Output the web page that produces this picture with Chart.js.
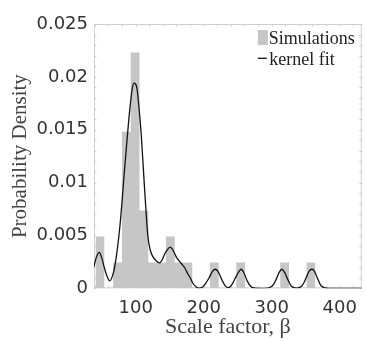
<!DOCTYPE html>
<html>
<head>
<meta charset="utf-8">
<script src="https://cdn.jsdelivr.net/npm/chart.js@4.4.0/dist/chart.umd.min.js"></script>
<style>
  html, body { margin: 0; padding: 0; background: #fff; }
  canvas { display: block; }
</style>
</head>
<body>
<canvas id="kdeChart" width="366" height="341"></canvas>
<script>
// histogram of simulations (bin edges + density per bin)
const binEdges = [40.9, 53.84, 66.78, 79.72, 92.66, 105.6, 118.54, 131.48, 144.42, 157.36, 170.3, 183.24, 196.18,
  209.12, 222.06, 235.0, 247.94, 260.88, 273.82, 286.76, 299.7, 312.64, 325.58, 338.52, 351.46, 364.4];
const binDensity = [0.0049, 0, 0.00245, 0.0148, 0.0223, 0.00735, 0.00245, 0.00245, 0.0049, 0.00245, 0.00245, 0, 0,
  0.00245, 0, 0, 0.00245, 0, 0, 0, 0, 0.00245, 0, 0, 0.00245];

// kernel fit
const kernelX = [38.7, 42, 46.5, 50, 53.3, 57.5, 62, 66, 69.4, 76.7, 84, 91.3, 95, 97.5, 100, 101.9, 105, 108.3, 113.2,
  118, 121.5, 125.3, 130, 135, 139, 142.3, 146, 150.7, 155, 159.4, 164, 169, 172.5, 176.4, 181, 184, 188.6, 193.4,
  198, 203.2, 208, 213, 217, 221, 227.5, 232, 236.5, 241, 246, 251, 255, 259, 264, 269, 276, 290, 298, 303, 307, 311,
  315, 319, 324, 329, 337, 344, 348, 352, 356, 359.5, 363, 367, 372, 378, 385, 432.6];
const kernelY = [0.00205, 0.0029, 0.0034, 0.0029, 0.0021, 0.0012, 0.0007, 0.0012, 0.0021, 0.0058, 0.0115, 0.0169,
  0.0189, 0.0194, 0.0193, 0.0189, 0.017, 0.0144, 0.0093, 0.0049, 0.0036, 0.003, 0.0026, 0.0024, 0.0027, 0.0032,
  0.0036, 0.0039, 0.0036, 0.003, 0.0026, 0.0022, 0.0019, 0.0014, 0.0009, 0.0005, 0.00015, 0.00002, 0.0001, 0.0005,
  0.001, 0.0016, 0.0018, 0.0016, 0.0007, 0.0002, 0.00005, 0.0003, 0.0009, 0.0015, 0.0018, 0.0015, 0.0007, 0.0002,
  0.00002, 0, 0.0001, 0.0004, 0.0009, 0.0015, 0.0018, 0.0015, 0.0008, 0.0002, 0.00002, 0.0002, 0.0006, 0.0012,
  0.0017, 0.0018, 0.0016, 0.001, 0.0003, 0.00005, 0, 0];

const xTicks = [100, 200, 300, 400];
const yTicks = [0, 0.005, 0.01, 0.015, 0.02, 0.025];
const yTickLabels = ["0", "0.005", "0.01", "0.015", "0.02", "0.025"];
const legendLabels = ["Simulations", "kernel fit"];

const barColor = "#c6c6c6";
const lineColor = "#111111";
const frameColor = "#cfcfcf";
const serif = "Liberation Serif";
const sans = "DejaVu Sans";

const histPoints = binEdges.map((edge, i) => ({ x: edge, y: i < binDensity.length ? binDensity[i] : 0 }));
const kernelPoints = kernelX.map((x, i) => ({ x: x, y: kernelY[i] }));

const framePlugin = {
  id: "frameTicks",
  beforeDatasetsDraw(chart) {
    const { ctx, chartArea, scales } = chart;
    const { left, right, top, bottom } = chartArea;
    ctx.save();
    ctx.strokeStyle = frameColor;
    ctx.lineWidth = 1;
    ctx.strokeRect(left + 0.5, top + 0.5, right - left - 1, bottom - top - 1);
    ctx.beginPath();
    for (let v = 40; v <= 420; v += 20) {
      const px = Math.round(scales.x.getPixelForValue(v)) + 0.5;
      ctx.moveTo(px, top); ctx.lineTo(px, top + 2.5);
      ctx.moveTo(px, bottom); ctx.lineTo(px, bottom - 2.5);
    }
    for (let k = 0; k <= 25; k++) {
      const py = Math.round(scales.y.getPixelForValue(k * 0.001)) + 0.5;
      ctx.moveTo(left, py); ctx.lineTo(left + 2.5, py);
      ctx.moveTo(right, py); ctx.lineTo(right - 2.5, py);
    }
    ctx.stroke();
    ctx.restore();
  }
};

const legendPlugin = {
  id: "cornerLegend",
  afterDatasetsDraw(chart) {
    const { ctx, chartArea } = chart;
    const x0 = chartArea.right - 104;
    const y0 = chartArea.top;
    ctx.save();
    ctx.fillStyle = barColor;
    ctx.fillRect(x0, y0 + 6, 10, 15);
    ctx.strokeStyle = lineColor;
    ctx.lineWidth = 1.3;
    ctx.beginPath();
    ctx.moveTo(x0, y0 + 34.3);
    ctx.lineTo(x0 + 9, y0 + 34.3);
    ctx.stroke();
    ctx.fillStyle = "#222";
    ctx.font = "18px '" + serif + "'";
    ctx.textBaseline = "alphabetic";
    ctx.fillText(legendLabels[0], x0 + 11, y0 + 20.3);
    ctx.fillText(legendLabels[1], x0 + 11.5, y0 + 41);
    ctx.restore();
  }
};

const ctx = document.getElementById("kdeChart").getContext("2d");
new Chart(ctx, {
  type: "line",
  data: {
    datasets: [
      {
        label: legendLabels[1],
        data: kernelPoints,
        borderColor: lineColor,
        borderWidth: 1.3,
        pointRadius: 0,
        fill: false,
        cubicInterpolationMode: "monotone",
        order: 1
      },
      {
        label: legendLabels[0],
        data: histPoints,
        stepped: true,
        fill: "origin",
        backgroundColor: barColor,
        borderColor: "rgba(0,0,0,0)",
        borderWidth: 0,
        pointRadius: 0,
        order: 2
      }
    ]
  },
  options: {
    responsive: false,
    animation: false,
    layout: { padding: { top: 24, right: 2, left: 0, bottom: 0 } },
    plugins: {
      legend: { display: false },
      tooltip: { enabled: false }
    },
    scales: {
      x: {
        type: "linear",
        min: 38.7,
        max: 432.6,
        afterBuildTicks: scale => { scale.ticks = xTicks.map(v => ({ value: v })); },
        afterFit: scale => { scale.height = 52.7; },
        grid: { display: false, drawTicks: false },
        border: { display: false },
        ticks: { padding: 9, maxRotation: 0, color: "#333", font: { family: sans, size: 18 } },
        title: {
          display: true,
          text: "Scale factor, β",
          color: "#444",
          font: { family: serif, size: 22 },
          padding: { top: 0, bottom: 1 }
        }
      },
      y: {
        min: 0,
        max: 0.025,
        afterBuildTicks: scale => { scale.ticks = yTicks.map(v => ({ value: v })); },
        afterFit: scale => { scale.width = 94; },
        grid: { display: false, drawTicks: false },
        border: { display: false },
        ticks: {
          padding: 6,
          color: "#333",
          font: { family: sans, size: 18 },
          callback: (value, index) => yTickLabels[index]
        },
        title: {
          display: true,
          text: "Probability Density",
          color: "#444",
          font: { family: serif, size: 21 },
          padding: { top: 7.5, bottom: 0 }
        }
      }
    }
  },
  plugins: [framePlugin, legendPlugin]
});
</script>
</body>
</html>
